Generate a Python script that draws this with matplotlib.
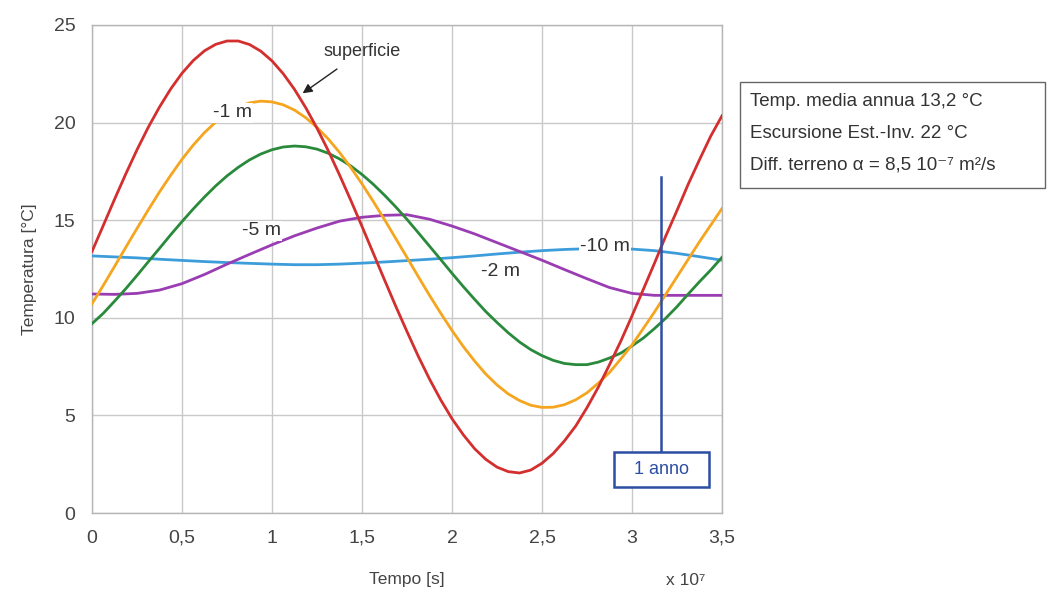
import matplotlib
matplotlib.use("Agg")
import matplotlib.pyplot as plt
from matplotlib.patches import Rectangle

plt.rcParams['font.family'] = ['Liberation Sans Narrow', 'Liberation Sans', 'DejaVu Sans']

# time in units of 1e7 s (fine grid for the large-amplitude curves)
tempo_fine = [0.0, 0.0625, 0.125, 0.1875, 0.25, 0.3125, 0.375, 0.4375, 0.5, 0.5625,
              0.625, 0.6875, 0.75, 0.8125, 0.875, 0.9375, 1.0, 1.0625, 1.125, 1.1875,
              1.25, 1.3125, 1.375, 1.4375, 1.5, 1.5625, 1.625, 1.6875, 1.75, 1.8125,
              1.875, 1.9375, 2.0, 2.0625, 2.125, 2.1875, 2.25, 2.3125, 2.375, 2.4375,
              2.5, 2.5625, 2.625, 2.6875, 2.75, 2.8125, 2.875, 2.9375, 3.0, 3.0625,
              3.125, 3.1875, 3.25, 3.3125, 3.375, 3.4375, 3.5]
tempo = [0.0, 0.125, 0.25, 0.375, 0.5, 0.625, 0.75, 0.875, 1.0, 1.125, 1.25, 1.375,
         1.5, 1.625, 1.75, 1.875, 2.0, 2.125, 2.25, 2.375, 2.5, 2.625, 2.75, 2.875,
         3.0, 3.125, 3.25, 3.375, 3.5]

superficie = [13.4, 14.73, 16.07, 17.37, 18.61, 19.76, 20.8, 21.73, 22.53, 23.18,
              23.68, 24.01, 24.18, 24.18, 24.0, 23.66, 23.16, 22.5, 21.7, 20.76,
              19.71, 18.56, 17.32, 16.02, 14.68, 13.31, 11.94, 10.59, 9.29, 8.03,
              6.86, 5.79, 4.83, 4.01, 3.3, 2.75, 2.35, 2.12, 2.05, 2.2,
              2.55, 3.05, 3.7, 4.46, 5.4, 6.44, 7.6, 8.8, 10.1, 11.45,
              12.8, 14.19, 15.5, 16.85, 18.1, 19.31, 20.35]
meno1 = [10.72, 11.66, 12.63, 13.61, 14.58, 15.53, 16.45, 17.31, 18.12, 18.85,
         19.49, 20.03, 20.47, 20.8, 21.01, 21.1, 21.06, 20.91, 20.64, 20.25,
         19.75, 19.16, 18.47, 17.7, 16.86, 15.96, 15.03, 14.06, 13.09, 12.11,
         11.15, 10.23, 9.35, 8.53, 7.79, 7.12, 6.56, 6.1, 5.76, 5.52,
         5.41, 5.42, 5.55, 5.8, 6.16, 6.65, 7.2, 7.89, 8.61, 9.45,
         10.3, 11.2, 12.1, 13.0, 13.9, 14.75, 15.6]
meno2 = [9.7, 10.23, 10.85, 11.49, 12.17, 12.87, 13.56, 14.26, 14.93, 15.58,
         16.19, 16.76, 17.27, 17.71, 18.09, 18.39, 18.61, 18.75, 18.8, 18.76,
         18.64, 18.43, 18.14, 17.78, 17.34, 16.84, 16.28, 15.68, 15.04, 14.36,
         13.67, 12.98, 12.28, 11.6, 10.95, 10.32, 9.76, 9.23, 8.76, 8.37,
         8.06, 7.82, 7.66, 7.6, 7.6, 7.73, 7.94, 8.19, 8.56, 8.96,
         9.45, 9.98, 10.57, 11.22, 11.85, 12.45, 13.1]
meno5 = [11.22, 11.2, 11.25, 11.42, 11.75, 12.22, 12.75, 13.25, 13.74, 14.2, 14.6, 14.95,
         15.15, 15.25, 15.28, 15.05, 14.7, 14.3, 13.85, 13.4, 12.95, 12.47, 12.0, 11.55,
         11.25, 11.15, 11.15, 11.15, 11.15]
meno10 = [13.17, 13.12, 13.07, 13.0, 12.94, 12.88, 12.83, 12.79, 12.75, 12.72, 12.72, 12.75,
          12.8, 12.86, 12.93, 13.0, 13.08, 13.17, 13.27, 13.36, 13.44, 13.5, 13.54, 13.55,
          13.52, 13.44, 13.3, 13.13, 12.95]

x_ticks = [0, 0.5, 1, 1.5, 2, 2.5, 3, 3.5]
x_ticklabels = ['0', '0,5', '1', '1,5', '2', '2,5', '3', '3,5']
y_ticks = [0, 5, 10, 15, 20, 25]

info_lines = ['Temp. media annua 13,2 °C',
              'Escursione Est.-Inv. 22 °C',
              'Diff. terreno α = 8,5 10⁻⁷ m²/s']

fig = plt.figure(figsize=(10.47, 5.95), dpi=100)
ax = fig.add_axes([0.0879, 0.1378, 0.6017, 0.8202])

c_red = '#d32f2f'
c_orange = '#f5a51e'
c_green = '#2a8a3c'
c_purple = '#9a3db3'
c_blue = '#3d9ddb'
lw = 2.0

ax.plot(tempo, meno10, color=c_blue, lw=lw, zorder=3)
ax.plot(tempo, meno5, color=c_purple, lw=lw, zorder=3)
ax.plot(tempo_fine, meno2, color=c_green, lw=lw, zorder=3)
ax.plot(tempo_fine, meno1, color=c_orange, lw=lw, zorder=3)
ax.plot(tempo_fine, superficie, color=c_red, lw=lw, zorder=3)

ax.set_xlim(0, 3.5)
ax.set_ylim(0, 25)
ax.set_xticks(x_ticks)
ax.set_xticklabels(x_ticklabels)
ax.set_yticks(y_ticks)
ax.tick_params(length=0, labelsize=14, colors='#444444', pad=12)
ax.grid(True, color='#c9c9c9', lw=1.0)
ax.set_axisbelow(True)
for s in ax.spines.values():
    s.set_color('#b5b5b5')
    s.set_linewidth(1.0)

ax.set_ylabel('Temperatura [°C]', fontsize=12.5, color='#444444', labelpad=12)
ax.set_xlabel('Tempo [s]', fontsize=12.5, color='#444444', labelpad=18)
ax.text(3.3, -3.05, 'x 10⁷', fontsize=12.5, color='#444444', ha='center', va='top')

lab = dict(fontsize=14, color='#333333', ha='center', va='center', zorder=5,
           bbox=dict(facecolor='white', edgecolor='none', pad=1.0))
ax.text(0.78, 20.5, '-1 m', **lab)
ax.text(0.94, 14.45, '-5 m', **lab)
ax.text(2.27, 12.35, '-2 m', **lab)
ax.text(2.85, 13.65, '-10 m', **lab)

ax.annotate('superficie', xy=(1.17, 21.5), xytext=(1.5, 23.65),
            fontsize=13, color='#333333', ha='center', va='center', zorder=6,
            arrowprops=dict(arrowstyle='-|>', color='#222222', lw=1.0,
                            shrinkA=8, shrinkB=0, mutation_scale=14))

# 1 anno marker
c_anno = '#2c4fa3'
ax.plot([3.16, 3.16], [3.13, 17.2], color=c_anno, lw=1.8, zorder=4)
ax.add_patch(Rectangle((2.9, 1.33), 0.53, 1.8, facecolor='white', edgecolor=c_anno,
                       lw=1.8, zorder=6))
ax.text(3.165, 2.23, '1 anno', fontsize=13, color=c_anno, ha='center', va='center', zorder=7)

# info box
fig.patches.append(Rectangle((0.7068, 0.684), 0.291, 0.178, transform=fig.transFigure,
                             facecolor='white', edgecolor='#666666', lw=1.0))
for yy, t in zip([0.829, 0.776, 0.722], info_lines):
    fig.text(0.716, yy, t, fontsize=13.5, color='#333333', va='center', ha='left')

fig.savefig('out.png', dpi=100)
